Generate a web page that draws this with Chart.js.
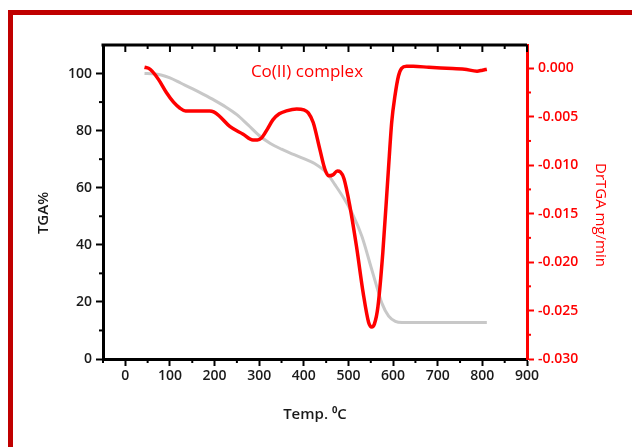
<!DOCTYPE html>
<html>
<head>
<meta charset="utf-8">
<script src="https://cdn.jsdelivr.net/npm/chart.js@4.4.1/dist/chart.umd.min.js"></script>
<style>
  html, body { margin: 0; padding: 0; background: #ffffff; }
  #wrap { width: 632px; height: 447px; position: relative; }
</style>
</head>
<body>
<div id="wrap"><canvas id="c" width="632" height="447"></canvas></div>
<script>
// ---- Data ----
const tgaTemp = [43, 60, 80, 100, 125, 150, 175, 200, 225, 250, 275, 300, 325, 350, 375, 400, 425, 450, 470, 490, 510, 530, 550, 565, 575, 590, 605, 620, 700, 810];
const tgaValues = [100, 99.9, 99.5, 98.5, 96.6, 94.7, 92.7, 90.6, 88.3, 85.6, 82, 78.3, 75.5, 73.5, 71.8, 70.2, 68.4, 65.4, 61, 56.2, 50.5, 43, 32.5, 24.5, 19.5, 15, 13.2, 12.8, 12.8, 12.8];

const dtgTemp = [43, 52, 60, 75, 92, 108, 122, 135, 160, 189, 198, 210, 234, 264, 286, 296, 305, 318, 331, 345, 361, 384, 400, 410, 421, 436, 447, 455, 465, 475, 482, 490, 503, 518, 533, 545, 552, 558, 566, 577, 589, 597, 604, 612, 619, 630, 645, 680, 720, 760, 788, 800, 810];
const dtgValues = [0.0001, 0.0, -0.0003, -0.0012, -0.0025, -0.0035, -0.0041, -0.0044, -0.0044, -0.0044, -0.0045, -0.0049, -0.0060, -0.0068, -0.0074, -0.0074, -0.0072, -0.0063, -0.0053, -0.0047, -0.0044, -0.0042, -0.0043, -0.0046, -0.0056, -0.0084, -0.0104, -0.0111, -0.0110, -0.0106, -0.0107, -0.0114, -0.0142, -0.0184, -0.0232, -0.0262, -0.0267, -0.0264, -0.0246, -0.0190, -0.0108, -0.0055, -0.0029, -0.0008, 0.0000, 0.0002, 0.0002, 0.0001, 0.0000, -0.0001, -0.0003, -0.0002, -0.0001];

const xMajorTicks = [0, 100, 200, 300, 400, 500, 600, 700, 800, 900];
const xMinorTicks = [-50, 50, 150, 250, 350, 450, 550, 650, 750, 850];
const yLeftMajorTicks = [0, 20, 40, 60, 80, 100];
const yLeftMinorTicks = [10, 30, 50, 70, 90];
const yRightMajorTicks = [-0.030, -0.025, -0.020, -0.015, -0.010, -0.005, 0.000];
const yRightMinorTicks = [-0.0275, -0.0225, -0.0175, -0.0125, -0.0075, -0.0025];

const annotationText = 'Co(II) complex';
const xTitle = 'Temp. \u2070C';
const yLeftTitle = 'TGA%';
const yRightTitle = 'DrTGA mg/min';

// ---- Chart ----
Chart.defaults.font.family = "'Open Sans', 'Noto Sans', sans-serif";
Chart.defaults.font.size = 14;
Chart.defaults.font.weight = '600';
Chart.defaults.color = '#1a1a1a';

const FONT = "'Open Sans', 'Noto Sans', sans-serif";

const decor = {
  id: 'decor',
  beforeDraw(chart) {
    const ctx = chart.ctx;
    ctx.save();
    ctx.fillStyle = '#ffffff';
    ctx.fillRect(0, 0, chart.width, chart.height);
    ctx.fillStyle = '#c00000';
    ctx.fillRect(8, 10, chart.width - 8, 5);
    ctx.fillRect(8, 10, 5, chart.height - 10);
    ctx.restore();
  },
  afterDraw(chart) {
    const ctx = chart.ctx;
    const ca = chart.chartArea;
    const sx = chart.scales.x, syl = chart.scales.yL, syr = chart.scales.yR;
    const line = (x1, y1, x2, y2) => { ctx.beginPath(); ctx.moveTo(x1, y1); ctx.lineTo(x2, y2); ctx.stroke(); };
    ctx.save();
    ctx.lineCap = 'butt';
    // top frame line
    ctx.strokeStyle = '#000000';
    ctx.lineWidth = 3;
    line(ca.left - 1.5, ca.top, ca.right, ca.top);
    ctx.lineWidth = 2;
    // bottom minor ticks (outward)
    xMinorTicks.forEach(v => { const p = sx.getPixelForValue(v); line(p, ca.bottom, p, ca.bottom + 4); });
    // top ticks (inward)
    xMajorTicks.forEach(v => { const p = sx.getPixelForValue(v); line(p, ca.top, p, ca.top + 7); });
    xMinorTicks.forEach(v => { const p = sx.getPixelForValue(v); if (p > ca.left + 2) line(p, ca.top, p, ca.top + 4); });
    // left minor ticks
    yLeftMinorTicks.forEach(v => { const p = syl.getPixelForValue(v); line(ca.left - 4, p, ca.left, p); });
    // right minor ticks
    ctx.strokeStyle = '#ff0000';
    yRightMinorTicks.forEach(v => { const p = syr.getPixelForValue(v); line(ca.right, p, ca.right + 4, p); });
    // annotation
    ctx.fillStyle = '#ff0000';
    ctx.font = "400 17px " + FONT;
    ctx.textAlign = 'center';
    ctx.textBaseline = 'middle';
    ctx.fillText(annotationText, sx.getPixelForValue(407), syl.getPixelForValue(100.5));
    // axis titles (y)
    ctx.save();
    ctx.translate(44, 213);
    ctx.rotate(-Math.PI / 2);
    ctx.fillStyle = '#1a1a1a';
    ctx.font = "600 15px " + FONT;
    ctx.fillText(yLeftTitle, 0, 0);
    ctx.restore();
    ctx.save();
    ctx.translate(600, 215);
    ctx.rotate(Math.PI / 2);
    ctx.fillStyle = '#ff0000';
    ctx.font = "400 15px " + FONT;
    ctx.fillText(yRightTitle, 0, 0);
    ctx.restore();
    ctx.restore();
  }
};

new Chart(document.getElementById('c'), {
  type: 'line',
  data: {
    datasets: [
      {
        label: 'DrTGA',
        data: dtgTemp.map((t, i) => ({ x: t, y: dtgValues[i] })),
        yAxisID: 'yR',
        borderColor: '#ff0000',
        borderWidth: 3.5,
        pointRadius: 0,
        cubicInterpolationMode: 'monotone',
        order: 0
      },
      {
        label: 'TGA',
        data: tgaTemp.map((t, i) => ({ x: t, y: tgaValues[i] })),
        yAxisID: 'yL',
        borderColor: '#c8c8c8',
        borderWidth: 3,
        pointRadius: 0,
        cubicInterpolationMode: 'monotone',
        order: 1
      }
    ]
  },
  options: {
    responsive: false,
    animation: false,
    layout: { padding: { top: 45, left: 0, right: 0, bottom: 0 } },
    plugins: { legend: { display: false }, tooltip: { enabled: false } },
    scales: {
      x: {
        type: 'linear',
        position: 'bottom',
        min: -50,
        max: 900,
        afterFit(s) { s.height = 88; },
        afterBuildTicks(s) { s.ticks = xMajorTicks.map(v => ({ value: v })); },
        grid: { drawOnChartArea: false, drawTicks: true, tickLength: 7, tickColor: '#000', tickWidth: 2 },
        border: { display: true, color: '#000', width: 3 },
        ticks: { padding: 2, color: '#1a1a1a', maxRotation: 0, autoSkip: false, callback: v => String(v) },
        title: { display: true, text: xTitle, color: '#1a1a1a', font: { size: 15, weight: '600' }, padding: { top: 0, bottom: 23 } }
      },
      yL: {
        type: 'linear',
        position: 'left',
        min: 0,
        max: 110,
        afterFit(s) { s.width = 103; },
        afterBuildTicks(s) { s.ticks = yLeftMajorTicks.map(v => ({ value: v })); },
        grid: { drawOnChartArea: false, drawTicks: true, tickLength: 7, tickColor: '#000', tickWidth: 2 },
        border: { display: true, color: '#000', width: 3 },
        ticks: { padding: 4, color: '#1a1a1a', autoSkip: false, callback: v => String(v) },
        title: { display: false }
      },
      yR: {
        type: 'linear',
        position: 'right',
        min: -0.030,
        max: 0.0024,
        afterFit(s) { s.width = 105; },
        afterBuildTicks(s) { s.ticks = yRightMajorTicks.map(v => ({ value: v })); },
        grid: { drawOnChartArea: false, drawTicks: true, tickLength: 7, tickColor: '#ff0000', tickWidth: 2 },
        border: { display: true, color: '#ff0000', width: 3 },
        ticks: { padding: 4, color: '#ff0000', autoSkip: false, callback: v => Number(v).toFixed(3) },
        title: { display: false }
      }
    }
  },
  plugins: [decor]
});
</script>
</body>
</html>
